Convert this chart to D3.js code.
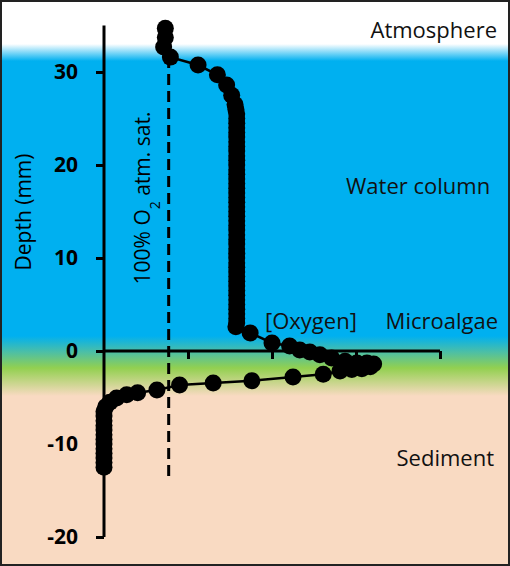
<!DOCTYPE html>
<html>
<head>
<meta charset="utf-8">
<script src="https://cdn.jsdelivr.net/npm/d3@7"></script>
<style>
  body { margin: 0; background: #fff; }
  #chart { width: 510px; height: 566px; }
  text { font-family: "Open Sans", "Noto Sans", sans-serif; }
</style>
</head>
<body>
<div id="chart"></div>
<script>
// oxygen (arbitrary units) and depth (mm), in drawing order
var oxygen = [0.73, 0.73, 0.71, 0.79, 1.12, 1.35, 1.46, 1.52, 1.56,
    1.57, 1.58, 1.58, 1.58, 1.58, 1.58, 1.58, 1.58, 1.58, 1.58, 1.58, 1.58,
    1.58, 1.58, 1.58, 1.58, 1.58, 1.58, 1.58, 1.58, 1.58, 1.58, 1.58, 1.58,
    1.58, 1.58, 1.58, 1.58, 1.58, 1.58, 1.58, 1.58, 1.58, 1.58, 1.58, 1.58,
    1.58, 1.58, 1.58, 1.58, 1.58, 1.58, 1.58, 1.58, 1.58, 1.58, 1.58, 1.57,
    1.74, 2.0, 2.21, 2.33, 2.45, 2.57, 2.71, 2.87, 3.01, 3.13, 3.21,
    3.17, 3.07, 2.95, 2.81, 2.61, 2.25, 1.76, 1.30, 0.90, 0.63, 0.40, 0.27,
    0.15, 0.07, 0.02, 0.0, 0.0, 0.0, 0.0, 0.0, 0.0, 0.0, 0.0, 0.0, 0.0, 0.0,
    0.0, 0.0];
var depth = [34.7, 33.7, 32.7, 31.6, 30.75, 29.7, 28.6, 27.5, 26.5,
    26.0, 25.5, 25.0, 24.5, 24.0, 23.5, 23.0, 22.5, 22.0, 21.5, 21.0, 20.5,
    20.0, 19.5, 19.0, 18.5, 18.0, 17.5, 17.0, 16.5, 16.0, 15.5, 15.0, 14.5,
    14.0, 13.5, 13.0, 12.5, 12.0, 11.5, 11.0, 10.5, 10.0, 9.5, 9.0, 8.5,
    8.0, 7.5, 7.0, 6.5, 6.0, 5.5, 5.0, 4.5, 4.0, 3.5, 3.0, 2.6,
    1.94, 0.86, 0.54, 0.1, -0.1, -0.4, -0.75, -1.1, -1.3, -1.3, -1.4,
    -1.7, -1.9, -2.0, -2.15, -2.5, -2.8, -3.2, -3.45, -3.65, -4.2, -4.5, -4.7,
    -5.05, -5.5, -6.0, -6.5, -7.0, -7.5, -8.0, -8.5, -9.0, -9.5, -10.0, -10.5, -11.0, -11.5,
    -12.0, -12.5];

var yTicks = [-20, -10, 0, 10, 20, 30];
var xTicks = [1, 2, 3, 4];
var saturation = 0.77;        // 100% O2 atm. sat. in axis units
var satRange = [-14, 31.6];   // extent of the dashed line (mm)

var zones = [
    { text: "Atmosphere", x: 497, y: 30, anchor: "end" },
    { text: "Water column", x: 346, y: 186, anchor: "start" },
    { text: "[Oxygen]", x: 265, y: 321, anchor: "start" },
    { text: "Microalgae", x: 498, y: 321, anchor: "end" },
    { text: "Sediment", x: 494, y: 458, anchor: "end" }
];

var full_width = 510, full_height = 566;

var x = d3.scaleLinear().domain([0, 4]).range([104, 440]);
var y = d3.scaleLinear().domain([-20, 30]).range([537, 72]);

var svg = d3.select("#chart").append("svg")
    .attr("width", full_width)
    .attr("height", full_height);

// background gradient: air -> water -> microalgae -> sediment
var grad = svg.append("defs").append("linearGradient")
    .attr("id", "bg")
    .attr("gradientUnits", "userSpaceOnUse")
    .attr("x1", 0).attr("x2", 0).attr("y1", 0).attr("y2", full_height);
[[0, "#ffffff"], [44, "#ffffff"], [61, "#00b0f0"], [336, "#00b0f0"],
 [352, "#4cbfa6"], [368, "#92d050"], [396, "#f9dac2"], [566, "#f9dac2"]]
    .forEach(function(s) {
        grad.append("stop")
            .attr("offset", s[0] / full_height)
            .attr("stop-color", s[1]);
    });

svg.append("rect")
    .attr("x", 1).attr("y", 1)
    .attr("width", full_width - 2).attr("height", full_height - 2)
    .attr("fill", "url(#bg)")
    .attr("stroke", "#222")
    .attr("stroke-width", 2);

// zone labels
svg.selectAll("text.zone")
    .data(zones)
    .enter().append("text")
    .attr("class", "zone")
    .attr("x", function(d) { return d.x; })
    .attr("y", function(d) { return d.y; })
    .attr("dy", "0.35em")
    .attr("text-anchor", function(d) { return d.anchor; })
    .style("font-size", "22px")
    .style("fill", "#111")
    .text(function(d) { return d.text; });

// X Axis
var xAxis = svg.append("g")
    .attr("transform", "translate(0," + y(0) + ")")
    .call(d3.axisBottom(x).tickValues(xTicks).tickSize(8).tickFormat(""));
xAxis.select(".domain").attr("d", "M" + x(0) + ",0H" + x(4))
    .attr("stroke", "#000").attr("stroke-width", 3);
xAxis.selectAll(".tick line").attr("stroke", "#000").attr("stroke-width", 3);

// Y Axis
var yAxis = svg.append("g")
    .attr("transform", "translate(" + x(0) + ",0)")
    .call(d3.axisLeft(y).tickValues(yTicks).tickSize(8).tickPadding(18));
yAxis.select(".domain").attr("d", "M0," + y(35) + "V" + y(-20))
    .attr("stroke", "#000").attr("stroke-width", 3);
yAxis.selectAll(".tick line").attr("stroke", "#000").attr("stroke-width", 3);
yAxis.selectAll(".tick text")
    .style("font-size", "21px")
    .style("font-weight", "bold")
    .style("font-family", "'Open Sans', sans-serif")
    .attr("fill", "#000")
    .text(function(d) { return d < 0 ? "-" + Math.abs(d) : d; });

// Y Axis label
svg.append("text")
    .attr("transform", "translate(24," + 212 + ") rotate(-90)")
    .attr("text-anchor", "middle")
    .attr("dy", "0.35em")
    .style("font-size", "21px")
    .text("Depth (mm)");

// 100% saturation line
svg.append("line")
    .attr("x1", x(saturation)).attr("x2", x(saturation))
    .attr("y1", y(satRange[1])).attr("y2", y(satRange[0]))
    .attr("stroke", "#000")
    .attr("stroke-width", 3)
    .attr("stroke-dasharray", "11,6");

var satLabel = svg.append("text")
    .attr("transform", "translate(" + 143 + "," + 198 + ") rotate(-90)")
    .attr("text-anchor", "middle")
    .attr("dy", "0.35em")
    .style("font-size", "21px");
satLabel.append("tspan").text("100% O");
satLabel.append("tspan").attr("baseline-shift", "sub").style("font-size", "14px").text("2");
satLabel.append("tspan").text(" atm. sat.");

// profile
var pts = oxygen.map(function(o, i) { return [o, depth[i]]; });

svg.append("path")
    .datum(pts)
    .attr("fill", "none")
    .attr("stroke", "#000")
    .attr("stroke-width", 2.5)
    .attr("d", d3.line()
        .x(function(d) { return x(d[0]); })
        .y(function(d) { return y(d[1]); }));

svg.selectAll("circle.dot")
    .data(pts)
    .enter().append("circle")
    .attr("class", "dot")
    .attr("cx", function(d) { return x(d[0]); })
    .attr("cy", function(d) { return y(d[1]); })
    .attr("r", 8.5)
    .attr("fill", "#000");
</script>
</body>
</html>
